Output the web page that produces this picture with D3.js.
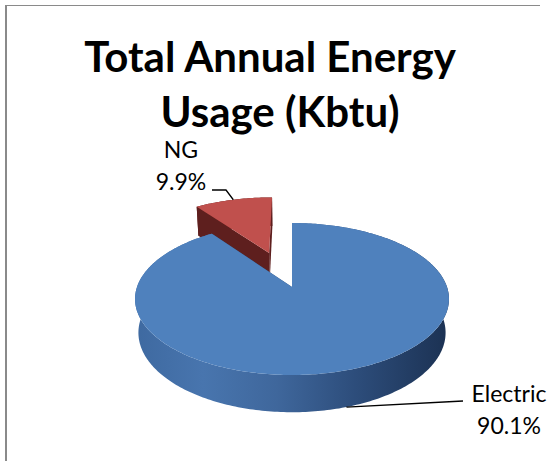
<!DOCTYPE html>
<html>
<head>
<meta charset="utf-8">
<script src="https://cdn.jsdelivr.net/npm/d3@7"></script>
<style>
  html, body { margin: 0; padding: 0; background: #ffffff; }
  svg { display: block; }
</style>
</head>
<body>
<script>
// Energy mix, share of total annual usage (percent)
const categories = ["Electric", "NG"];
const values = [90.1, 9.9];
// How far each slice is pulled out from the centre, as a fraction of the radius
const explodeBy = [0, 0.52];
const titleLines = ["Total Annual Energy", "Usage (Kbtu)"];

const W = 550, H = 461;
const svg = d3.select("body").append("svg")
  .attr("width", W).attr("height", H);

// --- 3D pie geometry -------------------------------------------------------
// The pie lies in the x/z plane (z toward the viewer), the top face at y = 0
// and the bottom at y = -thickness. The camera looks down at an angle and
// applies a mild perspective.
const cx = 292, cy = 287, radiusPx = 155;
const sinTilt = 0.478, cosTilt = Math.sqrt(1 - sinTilt * sinTilt);
const camDist = 5.56;
const thickness = 0.25;

const sx = d3.scaleLinear().domain([-1, 1]).range([cx - radiusPx, cx + radiusPx]);
const sy = d3.scaleLinear().domain([-1, 1]).range([cy + radiusPx, cy - radiusPx]);

function project(px, py, pz) {
  const depth = pz * cosTilt + py * sinTilt;
  const v = py * cosTilt - pz * sinTilt;
  const s = camDist / (camDist - depth);
  return [sx(px * s), sy(v * s)];
}
// point on a slice: angle a (0 = far side, clockwise), radius r, height y
function at(off, a, r, y) {
  return project(off[0] + r * Math.sin(a), y, off[1] - r * Math.cos(a));
}
function arcPoints(off, a0, a1, y) {
  const n = Math.max(4, Math.ceil(Math.abs(a1 - a0) / (Math.PI / 180)));
  return d3.range(n + 1).map(i => at(off, a0 + (a1 - a0) * i / n, 1, y));
}

const pie = d3.pie().sort(null).value(d => d);
const slices = pie(values).map((p, i) => {
  const mid = (p.startAngle + p.endAngle) / 2;
  const e = explodeBy[i];
  return {
    ...p,
    name: categories[i],
    mid,
    off: [e * Math.sin(mid), -e * Math.cos(mid)]
  };
});

const line = d3.line();
const closed = pts => line(pts) + "Z";

// --- colours ---------------------------------------------------------------
const topColor = ["#4f81bd", "#c0504d"];
const sideColor = ["url(#blueSide)", "#5e1f1e"];
const edgeColor = ["#2c4a74", "#7a2a28"];

const defs = svg.append("defs");
const g1 = defs.append("linearGradient").attr("id", "blueSide")
  .attr("gradientUnits", "userSpaceOnUse")
  .attr("x1", sx(-1.02)).attr("x2", sx(1.02)).attr("y1", 0).attr("y2", 0);
[[0, "#3e69a0"], [0.22, "#4875ae"], [0.45, "#3f679c"],
 [0.7, "#2d4d7b"], [1, "#1b3152"]].forEach(([o, c]) =>
  g1.append("stop").attr("offset", o).attr("stop-color", c));

// --- draw slices back to front (NG sits behind Electric) ------------------
const order = [1, 0];
const pieG = svg.append("g");
order.forEach(i => {
  const s = slices[i];
  const g = pieG.append("g").attr("class", "slice " + s.name);
  const yb = -thickness;
  // outer curved wall
  const topRim = arcPoints(s.off, s.startAngle, s.endAngle, 0);
  const botRim = arcPoints(s.off, s.startAngle, s.endAngle, yb).reverse();
  g.append("path").attr("d", closed(topRim.concat(botRim)))
    .attr("fill", sideColor[i]);
  // radial walls
  [s.startAngle, s.endAngle].forEach(a => {
    const pts = [
      project(s.off[0], 0, s.off[1]),
      at(s.off, a, 1, 0),
      at(s.off, a, 1, yb),
      project(s.off[0], yb, s.off[1])
    ];
    g.append("path").attr("d", closed(pts))
      .attr("fill", i === 1 ? sideColor[i] : edgeColor[i]);
  });
  // top face
  const topPts = [project(s.off[0], 0, s.off[1])].concat(topRim);
  g.append("path").attr("d", closed(topPts)).attr("fill", topColor[i]);
});

// --- data labels with leader lines ----------------------------------------
const fmt = d => d3.format(".1f")(d) + "%";
const labelFont = "Lato, 'Open Sans', sans-serif";

// NG: leader from the top rim of the slice up to the label
{
  const s = slices[1];
  const a = at(s.off, s.mid, 1, 0);
  svg.append("path")
    .attr("d", line([a, [226, 190], [212, 190]]))
    .attr("fill", "none").attr("stroke", "#000").attr("stroke-width", 1.3);
  const t = svg.append("text").attr("text-anchor", "middle")
    .attr("font-family", labelFont).attr("font-size", 23).attr("fill", "#000");
  t.append("tspan").attr("x", 181).attr("y", 158).text(s.name);
  t.append("tspan").attr("x", 181).attr("y", 190).text(fmt(s.value));
}
// Electric: leader from the bottom rim of the slice out to the label
{
  const s = slices[0];
  const a = at(s.off, s.mid, 1, -thickness);
  svg.append("path")
    .attr("d", line([a, [463, 401]]))
    .attr("fill", "none").attr("stroke", "#000").attr("stroke-width", 1.3);
  const t = svg.append("text").attr("text-anchor", "middle")
    .attr("font-family", labelFont).attr("font-size", 23).attr("fill", "#000");
  t.append("tspan").attr("x", 509).attr("y", 402).text(s.name);
  t.append("tspan").attr("x", 509).attr("y", 434).text(fmt(s.value));
}

// --- title -----------------------------------------------------------------
const titleG = svg.append("g")
  .attr("font-family", "Lato, 'Open Sans', sans-serif")
  .attr("font-weight", "bold").attr("font-size", 42).attr("fill", "#000")
  .attr("text-anchor", "middle");
titleG.append("text").attr("x", 270).attr("y", 72).text(titleLines[0]);
titleG.append("text").attr("x", 280).attr("y", 127).text(titleLines[1]);

// --- chart frame (left and top edges) -------------------------------------
svg.append("line").attr("x1", 6).attr("x2", 6).attr("y1", 5).attr("y2", H)
  .attr("stroke", "#8a8a8a").attr("stroke-width", 2);
svg.append("line").attr("x1", 5).attr("x2", 540).attr("y1", 5.5).attr("y2", 5.5)
  .attr("stroke", "#8a8a8a").attr("stroke-width", 1);
</script>
</body>
</html>
